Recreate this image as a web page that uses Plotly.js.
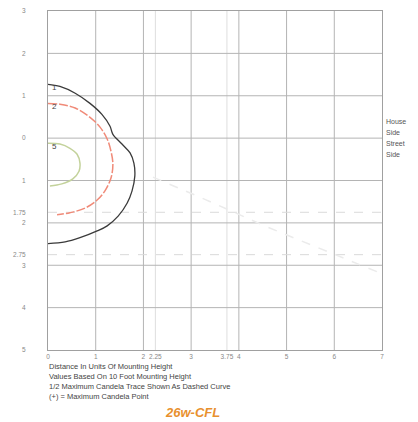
<!DOCTYPE html>
<html>
<head>
<meta charset="utf-8">
<script src="https://cdn.plot.ly/plotly-3.0.1.min.js"></script>
<style>html,body{margin:0;padding:0;background:#fff;}#chart{width:418px;height:422px;}</style>
</head>
<body>
<div id="chart"></div>
<script>
// Isofootcandle contours (x: distance along street, y: + house side / - street side), units of mounting height
var fc1X = [0, 0.25, 0.57, 0.88, 1.13, 1.30, 1.36, 1.55, 1.72, 1.80, 1.82, 1.76, 1.66, 1.47, 1.24, 1.03, 0.67, 0.36, 0];
var fc1Y = [1.27, 1.22, 1.06, 0.82, 0.56, 0.28, 0.09, -0.14, -0.35, -0.59, -0.89, -1.25, -1.53, -1.84, -2.07, -2.19, -2.35, -2.45, -2.49];
var fc2X = [0, 0.25, 0.57, 0.88, 1.09, 1.24, 1.32, 1.36, 1.32, 1.19, 1.03, 0.78, 0.46, 0.19];
var fc2Y = [0.82, 0.80, 0.71, 0.49, 0.26, -0.02, -0.31, -0.61, -0.94, -1.25, -1.46, -1.65, -1.76, -1.81];
var fc5X = [0, 0.25, 0.46, 0.61, 0.67, 0.65, 0.52, 0.29, 0.04];
var fc5Y = [-0.12, -0.14, -0.24, -0.38, -0.59, -0.78, -0.96, -1.08, -1.13];
// Half maximum candela trace (faint dashed)
var traceX = [2.2, 3.3, 4.6, 5.8, 7.0];
var traceY = [-0.92, -1.45, -2.1, -2.65, -3.2];
var contourLabels = ["1", "2", "5"];

var xTickVals = [0, 1, 2, 2.25, 3, 3.75, 4, 5, 6, 7];
var xTickText = ["0", "1", "2", "2.25", "3", "3.75", "4", "5", "6", "7"];
var yTickVals = [3, 2, 1, 0, -1, -1.75, -2, -2.75, -3, -4, -5];
var yTickText = ["3", "2", "1", "0", "1", "1.75", "2", "2.75", "3", "4", "5"];
var majorX = [1, 2, 3, 4, 5, 6];
var minorX = [2.25, 3.75];
var majorY = [2, 1, 0, -1, -2, -3, -4];
var minorY = [-1.75, -2.75];

var footerLines = [
  "Distance In Units Of Mounting Height",
  "Values Based On 10 Foot Mounting Height",
  "1/2 Maximum Candela Trace Shown As Dashed Curve",
  "(+) = Maximum Candela Point"
];
var sideLabels = ["House", "Side", "Street", "Side"];
var chartTitle = "26w-CFL";

var traces = [
  {x: traceX, y: traceY, mode: "lines", line: {color: "#ebebeb", width: 1.5, dash: "dash"}, hoverinfo: "skip"},
  {x: fc5X, y: fc5Y, mode: "lines", line: {color: "#c3d29b", width: 1.5, shape: "spline"}},
  {x: fc2X, y: fc2Y, mode: "lines", line: {color: "#f08a78", width: 1.5, dash: "9px,2px", shape: "spline"}},
  {x: fc1X, y: fc1Y, mode: "lines", line: {color: "#3a3a3a", width: 1.3, shape: "spline"}}
];

var shapes = [];
majorX.forEach(function (v) {
  shapes.push({type: "line", xref: "x", yref: "paper", x0: v, x1: v, y0: 0, y1: 1, line: {color: "#b4b4b4", width: 1}, layer: "below"});
});
minorX.forEach(function (v) {
  shapes.push({type: "line", xref: "x", yref: "paper", x0: v, x1: v, y0: 0, y1: 1, line: {color: "#dedede", width: 1}, layer: "below"});
});
majorY.forEach(function (v) {
  shapes.push({type: "line", xref: "paper", yref: "y", x0: 0, x1: 1, y0: v, y1: v, line: {color: "#b4b4b4", width: 1}, layer: "below"});
});
minorY.forEach(function (v) {
  shapes.push({type: "line", xref: "paper", yref: "y", x0: 0, x1: 1, y0: v, y1: v, line: {color: "#dadada", width: 1, dash: "dash"}, layer: "below"});
});

var annotations = [];
var startsY = [fc1Y[0], fc2Y[0], fc5Y[0]];
contourLabels.forEach(function (t, i) {
  annotations.push({x: 0, y: startsY[i], xref: "x", yref: "y", text: t, showarrow: false, xanchor: "left", yanchor: "top", xshift: 2, yshift: 3,
    font: {family: "Liberation Sans, Arial, sans-serif", size: 8, color: "#444"}});
});
footerLines.forEach(function (t, i) {
  annotations.push({x: 0, y: 0, xref: "paper", yref: "paper", text: t, showarrow: false, xanchor: "left", yanchor: "middle", xshift: -1, yshift: -16 - 10 * i,
    font: {family: "Liberation Sans, Arial, sans-serif", size: 7.5, color: "#444"}});
});
sideLabels.forEach(function (t, i) {
  annotations.push({x: 1, y: 0, xref: "paper", yref: "y", text: t, showarrow: false, xanchor: "left", yanchor: "middle", xshift: 2, yshift: 17 - 11 * i,
    font: {family: "Liberation Sans, Arial, sans-serif", size: 7, color: "#555"}});
});
annotations.push({x: 0.434, y: 0, xref: "paper", yref: "paper", text: "<b><i>" + chartTitle + "</i></b>", showarrow: false, xanchor: "center", yanchor: "middle", yshift: -62,
  font: {family: "Liberation Sans, Arial, sans-serif", size: 13, color: "#e8902e"}});

var layout = {
  width: 418, height: 422,
  margin: {l: 48, r: 36, t: 11, b: 72},
  paper_bgcolor: "#fff", plot_bgcolor: "#fff",
  showlegend: false,
  xaxis: {range: [0, 7], tickvals: xTickVals, ticktext: xTickText, showgrid: false, zeroline: false,
    showline: true, mirror: true, linecolor: "#a0a0a0", linewidth: 1, ticks: "",
    tickfont: {family: "Liberation Sans, Arial, sans-serif", size: 6.5, color: "#888"}, fixedrange: true},
  yaxis: {range: [-5, 3], tickvals: yTickVals, ticktext: yTickText, showgrid: false, zeroline: false,
    showline: true, mirror: true, linecolor: "#a0a0a0", linewidth: 1, ticks: "", ticklabelstandoff: 20,
    tickfont: {family: "Liberation Sans, Arial, sans-serif", size: 6.5, color: "#888"}, fixedrange: true},
  shapes: shapes,
  annotations: annotations
};

Plotly.newPlot("chart", traces, layout, {displayModeBar: false, staticPlot: true});
</script>
</body>
</html>
